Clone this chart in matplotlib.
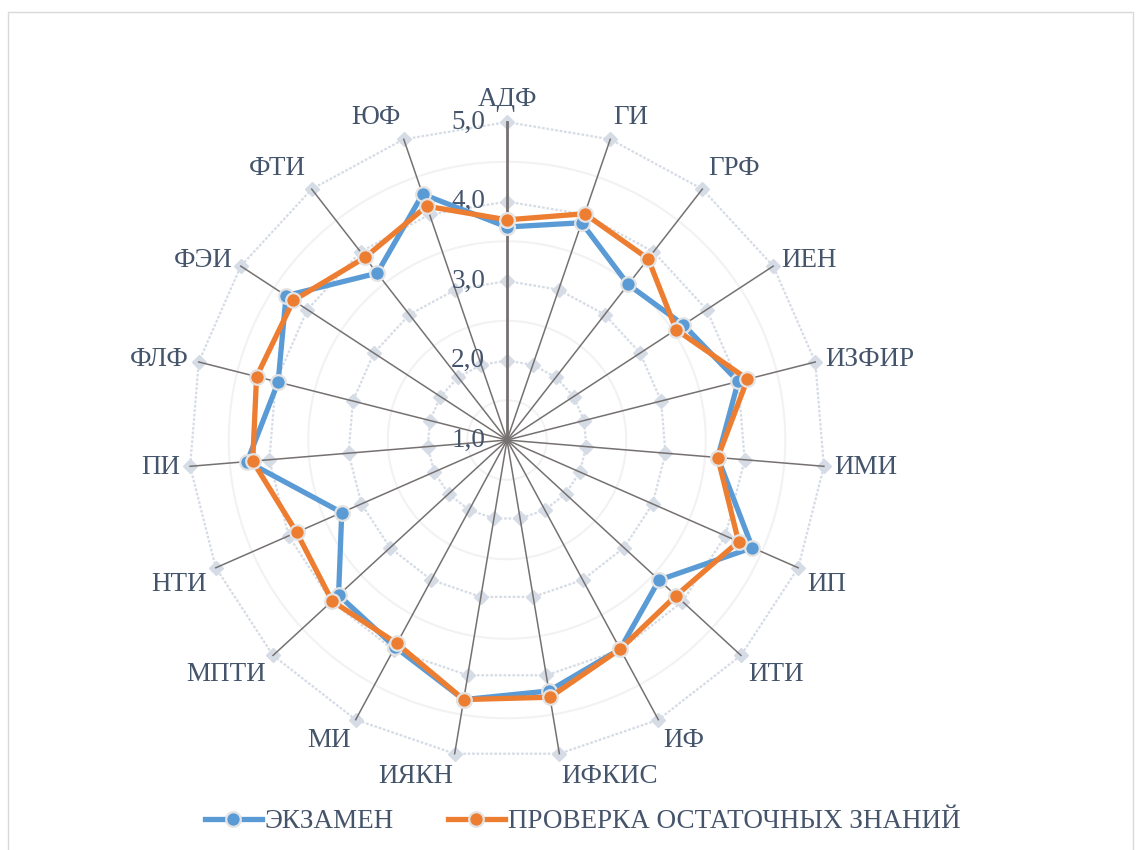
import matplotlib
matplotlib.use("Agg")
import matplotlib.pyplot as plt
import numpy as np
from matplotlib.patches import Rectangle

categories = ["АДФ", "ГИ", "ГРФ", "ИЕН", "ИЗФИР", "ИМИ", "ИП", "ИТИ", "ИФ", "ИФКИС",
              "ИЯКН", "МИ", "МПТИ", "НТИ", "ПИ", "ФЛФ", "ФЭИ", "ФТИ", "ЮФ"]
exam = [3.68, 3.89, 3.48, 3.65, 4.00, 3.66, 4.37, 3.60, 3.99, 4.20,
        4.31, 3.96, 3.88, 3.27, 4.28, 3.97, 4.32, 3.66, 4.27]
residual = [3.77, 4.01, 3.89, 3.54, 4.12, 3.66, 4.18, 3.89, 3.99, 4.28,
            4.31, 3.91, 3.99, 3.89, 4.21, 4.25, 4.21, 3.91, 4.11]
rings = [2.0, 3.0, 4.0, 5.0]
ring_labels = ["1,0", "2,0", "3,0", "4,0", "5,0"]

TEXT = "#44546A"
BLUE = "#5B9BD5"
ORANGE = "#ED7D31"
FS = 19.5
plt.rcParams['font.family'] = ['Liberation Serif', 'DejaVu Serif']

fig = plt.figure(figsize=(11.4, 8.5), dpi=100)
fig.patches.append(Rectangle((8 / 1140, -0.01), 1125 / 1140, 1 - 12 / 850 + 0.01,
                             transform=fig.transFigure, fill=False,
                             edgecolor="#D9D9D9", lw=1))

ax = fig.add_axes([0.1658, 0.1082, 0.5579, 0.7482], projection='polar')
ax.set_theta_zero_location('N')
ax.set_theta_direction(-1)
ax.set_ylim(1, 5)
ax.grid(False)
ax.spines['polar'].set_visible(False)
ax.set_xticks([])
ax.set_yticks([])
ax.patch.set_alpha(0)

n = len(categories)
theta = np.arange(n) * 2 * np.pi / n
theta_c = np.append(theta, theta[0])

# faint circles between rings
tt = np.linspace(0, 2 * np.pi, 400)
for v in [1.5, 2.5, 3.5, 4.5]:
    ax.plot(tt, np.full_like(tt, v), color="#F2F2F2", lw=1.5, zorder=1)

# dotted polygon rings with diamonds
for v in rings:
    ax.plot(theta_c, np.full_like(theta_c, v), color="#D6DCE5", lw=1.6,
            linestyle=(0, (1.2, 0.8)), zorder=1, clip_on=False)
    ax.plot(theta, np.full_like(theta, v), linestyle='none', marker='D',
            markersize=7.5, color="#D6DCE5", zorder=1, clip_on=False)

# spokes
for i, t in enumerate(theta):
    ax.plot([t, t], [1, 5], color="#767171", lw=2.0 if i == 0 else 1.1, zorder=2,
            clip_on=False)

# series
ax.plot(theta_c, exam + exam[:1], color=BLUE, lw=3.8, marker='o', markersize=10.5,
        markerfacecolor=BLUE, markeredgecolor="#E3E3E3", markeredgewidth=1.6,
        zorder=4, clip_on=False, label="ЭКЗАМЕН")
ax.plot(theta_c, residual + residual[:1], color=ORANGE, lw=3.8, marker='o', markersize=10.5,
        markerfacecolor=ORANGE, markeredgecolor="#E3E3E3", markeredgewidth=1.6,
        zorder=5, clip_on=False, label="ПРОВЕРКА ОСТАТОЧНЫХ ЗНАНИЙ")

# category labels
for t, name in zip(theta, categories):
    s, c = np.sin(t), np.cos(t)
    ha = 'left' if s > 0.05 else ('right' if s < -0.05 else 'center')
    va = 'bottom' if c > 0.7 else ('top' if c < -0.3 else 'center')
    ax.annotate(name, xy=(t, 5), xytext=(10 * s, 10 * c), textcoords='offset pixels',
                ha=ha, va=va, fontsize=FS, color=TEXT, annotation_clip=False)

# value labels
for v, lab in zip([1.0] + rings, ring_labels):
    ax.annotate(lab, xy=(0, v), xytext=(-22, 0), textcoords='offset pixels',
                ha='right', va='center', fontsize=FS, color=TEXT, annotation_clip=False,
                zorder=3)

fig.legend(loc='center', bbox_to_anchor=(0.511, 0.033), ncol=2, frameon=False,
           fontsize=FS, labelcolor=TEXT, handlelength=2.1, handletextpad=0.1,
           columnspacing=2.0)

fig.savefig("out.png", dpi=100)
